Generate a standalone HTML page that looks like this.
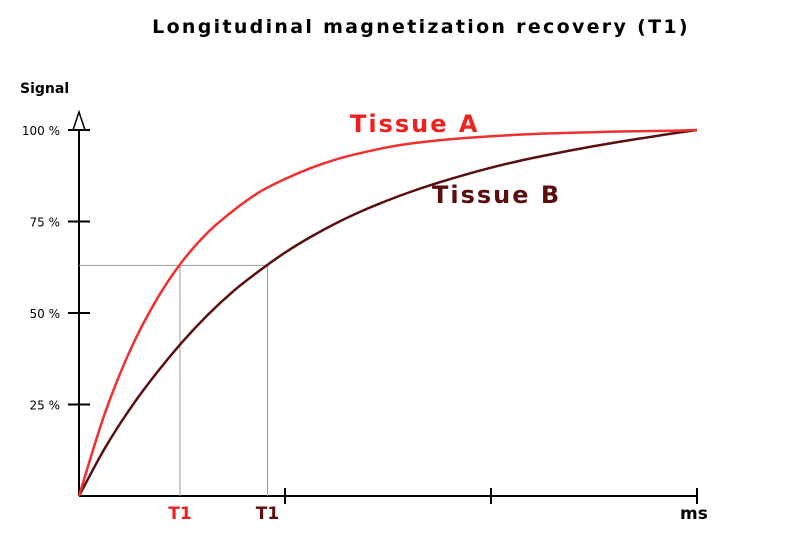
<!DOCTYPE html>
<html><head><meta charset="utf-8"><style>
body{margin:0;background:#fff;width:787px;height:540px;overflow:hidden}
svg text{font-family:"DejaVu Sans","Liberation Sans",sans-serif}
</style></head><body>
<svg id="chart" width="787" height="540" viewBox="0 0 787 540">
<text x="421" y="33" text-anchor="middle" font-size="19" font-weight="bold" fill="#000" letter-spacing="2.3">Longitudinal magnetization recovery (T1)</text>
<text x="20" y="93" font-size="14" font-weight="bold">Signal</text>
<g id="axes"></g>
<g id="guides"></g>
<g id="series"></g>
<text x="350" y="132" font-size="24" font-weight="bold" fill="#f02020" letter-spacing="2">Tissue A</text>
<text x="432" y="203" font-size="24" font-weight="bold" fill="#5a0f0f" letter-spacing="2">Tissue B</text>
<text x="680" y="519" font-size="17" font-weight="bold">ms</text>
</svg>
<script>
const times=[0,125,250,375,500,625,750,875,1000,1125,1250,1375,1500,1625,1750,1875,2000,2125,2250,2375,2500,2625,2750,2875,3000];
const tissueA=[0,0.225,0.40,0.535,0.64,0.72,0.78,0.83,0.866,0.896,0.92,0.938,0.953,0.964,0.972,0.978,0.983,0.987,0.99,0.992,0.994,0.996,0.997,0.998,1.0];
const tissueB=[0,0.13,0.24,0.335,0.42,0.495,0.56,0.615,0.665,0.708,0.746,0.779,0.808,0.834,0.857,0.878,0.897,0.914,0.929,0.943,0.956,0.968,0.979,0.99,1.0];
const t1Times=[490,915];
const t1Level=0.63;
const yTicks=[0.25,0.5,0.75,1.0];
const yTickLabels=["25 %","50 %","75 %","100 %"];
const xTicks=[1000,2000,3000];
const NS="http://www.w3.org/2000/svg";
const x=t=>79+t*(618/3000);
const y=v=>496-v*366;
function mk(tag,attrs,parent,text){const e=document.createElementNS(NS,tag);for(const k in attrs)e.setAttribute(k,attrs[k]);if(text!==undefined)e.textContent=text;parent.appendChild(e);return e;}
const axes=document.getElementById('axes'),guides=document.getElementById('guides'),series=document.getElementById('series');
let a=mk('line',{x1:79,y1:496,x2:697,y2:496,stroke:'#000','stroke-width':2},axes);

a=mk('line',{x1:79,y1:496,x2:79,y2:112,stroke:'#000','stroke-width':2},axes);

a=mk('path',{d:'M79,112 L73,130 L85,130 Z',fill:'#fff',stroke:'#000','stroke-width':1.5},axes);

yTicks.forEach((v,i)=>{
 const t=mk('line',{x1:68,y1:y(v),x2:90,y2:y(v),stroke:'#000','stroke-width':2},axes);
 
 const l=mk('text',{x:60,y:y(v)+5,'text-anchor':'end','font-size':12},axes,yTickLabels[i]);
 
});
xTicks.forEach(tv=>{
 const t=mk('line',{x1:x(tv),y1:488,x2:x(tv),y2:504,stroke:'#000','stroke-width':2},axes);
 
});
const t1Colors=['#f02020','#5a0f0f'];
t1Times.forEach((tv,i)=>{
 let g=mk('line',{x1:x(tv),y1:y(t1Level),x2:x(tv),y2:496,stroke:'#999','stroke-width':1},guides);
 
 g=mk('text',{x:x(tv),y:519,'text-anchor':'middle','font-size':17,'font-weight':'bold',fill:t1Colors[i]},guides,'T1');
 
});
let h=mk('line',{x1:79,y1:y(t1Level),x2:x(Math.max(...t1Times)),y2:y(t1Level),stroke:'#999','stroke-width':1},guides);

function path(vals){
 const p=vals.map((v,i)=>[x(times[i]),y(v)]);
 let d='M'+p[0][0]+','+p[0][1];
 for(let i=0;i<p.length-1;i++){
  const p0=p[Math.max(0,i-1)],p1=p[i],p2=p[i+1],p3=p[Math.min(p.length-1,i+2)];
  d+=' C'+(p1[0]+(p2[0]-p0[0])/6)+','+(p1[1]+(p2[1]-p0[1])/6)+' '+(p2[0]-(p3[0]-p1[0])/6)+','+(p2[1]-(p3[1]-p1[1])/6)+' '+p2[0]+','+p2[1];
 }
 return d;
}
let s=mk('path',{d:path(tissueB),fill:'none',stroke:'#5a0f0f','stroke-width':2.5},series);

s=mk('path',{d:path(tissueA),fill:'none',stroke:'#f03030','stroke-width':2.5},series);

</script>
</body></html>
